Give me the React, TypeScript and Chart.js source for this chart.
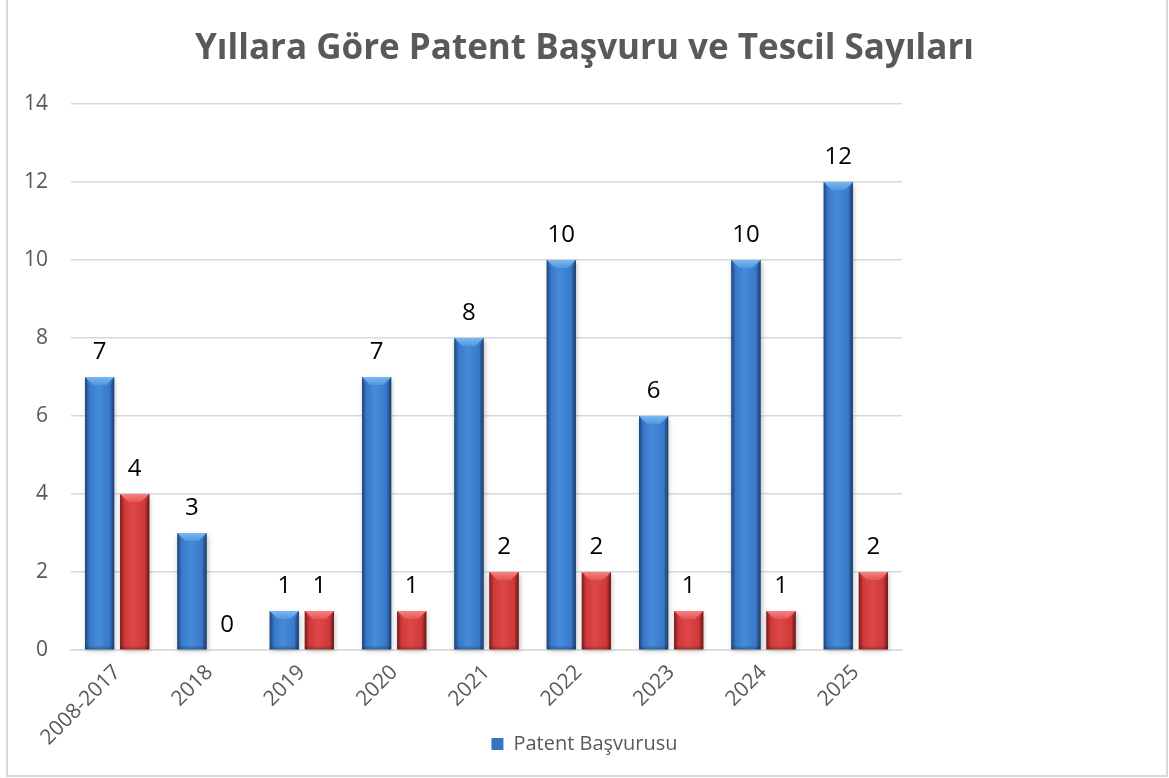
import { useEffect, useRef } from "react";
import { Chart, registerables } from "chart.js";

Chart.register(...registerables);

const chartTitle = "Yıllara Göre Patent Başvuru ve Tescil Sayıları";
const categories = ["2008-2017", "2018", "2019", "2020", "2021", "2022", "2023", "2024", "2025"];
const seriesNames = ["Patent Başvurusu", "Patent Tescili"];
const basvuruValues = [7, 3, 1, 7, 8, 10, 6, 10, 12];
const tescilValues = [4, 0, 1, 1, 2, 2, 1, 1, 2];
const yMin = 0;
const yMax = 14;
const yStep = 2;

const FONT = "'Open Sans', Lato, sans-serif";
const GRAY = "#595959";

const palettes = [
  { edge: "#274f86", mid: "#3675c6", light: "#468bda", top: "#7cb7f0", topEnd: "#5097e0" },
  { edge: "#8a1f1f", mid: "#cb3737", light: "#de4747", top: "#f68282", topEnd: "#e35555" },
];

const bevelPlugin = {
  id: "bevel",
  afterDatasetsDraw(chart: any) {
    const ctx = chart.ctx;
    chart.data.datasets.forEach((_ds: any, di: number) => {
      const meta = chart.getDatasetMeta(di);
      const pal = palettes[di];
      meta.data.forEach((el: any) => {
        const { x, y, base, width } = el.getProps(["x", "y", "base", "width"], true);
        const l = x - width / 2;
        const r = x + width / 2;
        const t = Math.min(y, base);
        const b = Math.max(y, base);
        const h = b - t;
        if (h < 0.5) return;
        ctx.save();
        ctx.shadowColor = "rgba(0,0,0,0.28)";
        ctx.shadowBlur = 5;
        ctx.shadowOffsetX = 1;
        ctx.shadowOffsetY = 2;
        const g = ctx.createLinearGradient(l, 0, r, 0);
        g.addColorStop(0, pal.edge);
        g.addColorStop(0.1, pal.mid);
        g.addColorStop(0.45, pal.light);
        g.addColorStop(0.9, pal.mid);
        g.addColorStop(1, pal.edge);
        ctx.fillStyle = g;
        ctx.fillRect(l, t, width, h);
        ctx.restore();
        const bg = ctx.createLinearGradient(0, b - 4, 0, b);
        bg.addColorStop(0, "rgba(0,0,0,0)");
        bg.addColorStop(1, "rgba(0,0,0,0.25)");
        ctx.fillStyle = bg;
        ctx.fillRect(l, b - 4, width, 4);
        const bv = Math.min(8, h / 2, width / 2);
        ctx.beginPath();
        ctx.moveTo(l, t);
        ctx.lineTo(r, t);
        ctx.lineTo(r - bv, t + bv);
        ctx.lineTo(l + bv, t + bv);
        ctx.closePath();
        const tg = ctx.createLinearGradient(0, t, 0, t + bv);
        tg.addColorStop(0, pal.top);
        tg.addColorStop(1, pal.topEnd);
        ctx.fillStyle = tg;
        ctx.fill();
        ctx.beginPath();
        ctx.moveTo(l, t);
        ctx.lineTo(l + bv * 0.45, t + bv);
        ctx.lineTo(l + bv * 0.45, b);
        ctx.lineTo(l, b);
        ctx.closePath();
        ctx.fillStyle = "rgba(0,0,0,0.12)";
        ctx.fill();
        ctx.beginPath();
        ctx.moveTo(r, t);
        ctx.lineTo(r - bv * 0.45, t + bv);
        ctx.lineTo(r - bv * 0.45, b);
        ctx.lineTo(r, b);
        ctx.closePath();
        ctx.fillStyle = "rgba(0,0,0,0.2)";
        ctx.fill();
      });
    });
  },
};

const valueLabelPlugin = {
  id: "valueLabels",
  afterDatasetsDraw(chart: any) {
    const ctx = chart.ctx;
    ctx.save();
    ctx.font = `24px ${FONT}`;
    ctx.fillStyle = "#000";
    ctx.textAlign = "center";
    ctx.textBaseline = "middle";
    chart.data.datasets.forEach((ds: any, di: number) => {
      const meta = chart.getDatasetMeta(di);
      meta.data.forEach((el: any, i: number) => {
        const { x, y } = el.getProps(["x", "y"], true);
        ctx.fillText(String(ds.data[i]), x, y - 25);
      });
    });
    ctx.restore();
  },
};

// let the rotated x labels extend below the x scale box (they overlap the legend row, as in the reference)
const labelClipPlugin = {
  id: "labelClip",
  afterLayout(chart: any) {
    const xs = chart.scales.x;
    if (xs) xs.bottom = chart.height;
  },
};

export default function App() {
  const ref = useRef<HTMLCanvasElement>(null);

  useEffect(() => {
    const canvas = ref.current;
    if (!canvas) return;
    const chart = new Chart(canvas, {
      type: "bar",
      data: {
        labels: categories,
        datasets: [
          {
            label: seriesNames[0],
            data: basvuruValues,
            backgroundColor: palettes[0].mid,
            borderColor: palettes[0].edge,
            borderWidth: 0,
            categoryPercentage: 0.76,
            barPercentage: 0.83,
          },
          {
            label: seriesNames[1],
            data: tescilValues,
            backgroundColor: palettes[1].mid,
            borderColor: palettes[1].edge,
            borderWidth: 0,
            categoryPercentage: 0.76,
            barPercentage: 0.83,
          },
        ],
      },
      options: {
        responsive: false,
        animation: false,
        devicePixelRatio: 1,
        layout: { padding: { left: 0, right: 0, top: 0, bottom: 14 } },
        plugins: {
          title: {
            display: true,
            text: chartTitle,
            color: GRAY,
            font: { family: FONT, size: 35, weight: "bold", lineHeight: 1.2 },
            padding: { top: 28, bottom: 34 },
          },
          legend: {
            display: true,
            position: "bottom",
            labels: {
              filter: (item: any) => item.datasetIndex === 0,
              color: GRAY,
              font: { family: FONT, size: 20 },
              boxWidth: 12,
              boxHeight: 12,
              padding: 4,
            },
          },
          tooltip: { enabled: false },
        },
        scales: {
          x: {
            grid: { display: false },
            border: { display: true, color: "#d9d9d9", width: 1.5 },
            ticks: {
              color: GRAY,
              font: { family: FONT, size: 21 },
              maxRotation: 45,
              minRotation: 45,
              padding: 2,
            },
            afterFit: (s: any) => {
              s.height = 80;
            },
          },
          y: {
            min: yMin,
            max: yMax,
            ticks: {
              stepSize: yStep,
              color: GRAY,
              font: { family: FONT, size: 21 },
              padding: 23,
            },
            grid: { color: "#d9d9d9", lineWidth: 1.5, drawTicks: false },
            border: { display: false },
            afterFit: (s: any) => {
              s.width = 71;
            },
          },
          spacer: {
            type: "linear",
            position: "right",
            display: true,
            grid: { display: false },
            border: { display: false },
            ticks: { display: false },
            afterFit: (s: any) => {
              s.width = 267;
            },
          },
        },
      } as any,
      plugins: [labelClipPlugin, bevelPlugin, valueLabelPlugin],
    });
    return () => chart.destroy();
  }, []);

  return (
    <div style={{ position: "fixed", left: 0, top: 0, width: 1169, height: 778, background: "#fff" }}>
      <div
        style={{
          position: "absolute",
          left: 6,
          top: -2,
          width: 1162,
          height: 779,
          border: "2px solid #d9d9d9",
          boxSizing: "border-box",
        }}
      />
      <canvas
        ref={ref}
        width={1169}
        height={778}
        style={{ position: "absolute", left: 0, top: 0, width: 1169, height: 778 }}
      />
    </div>
  );
}
